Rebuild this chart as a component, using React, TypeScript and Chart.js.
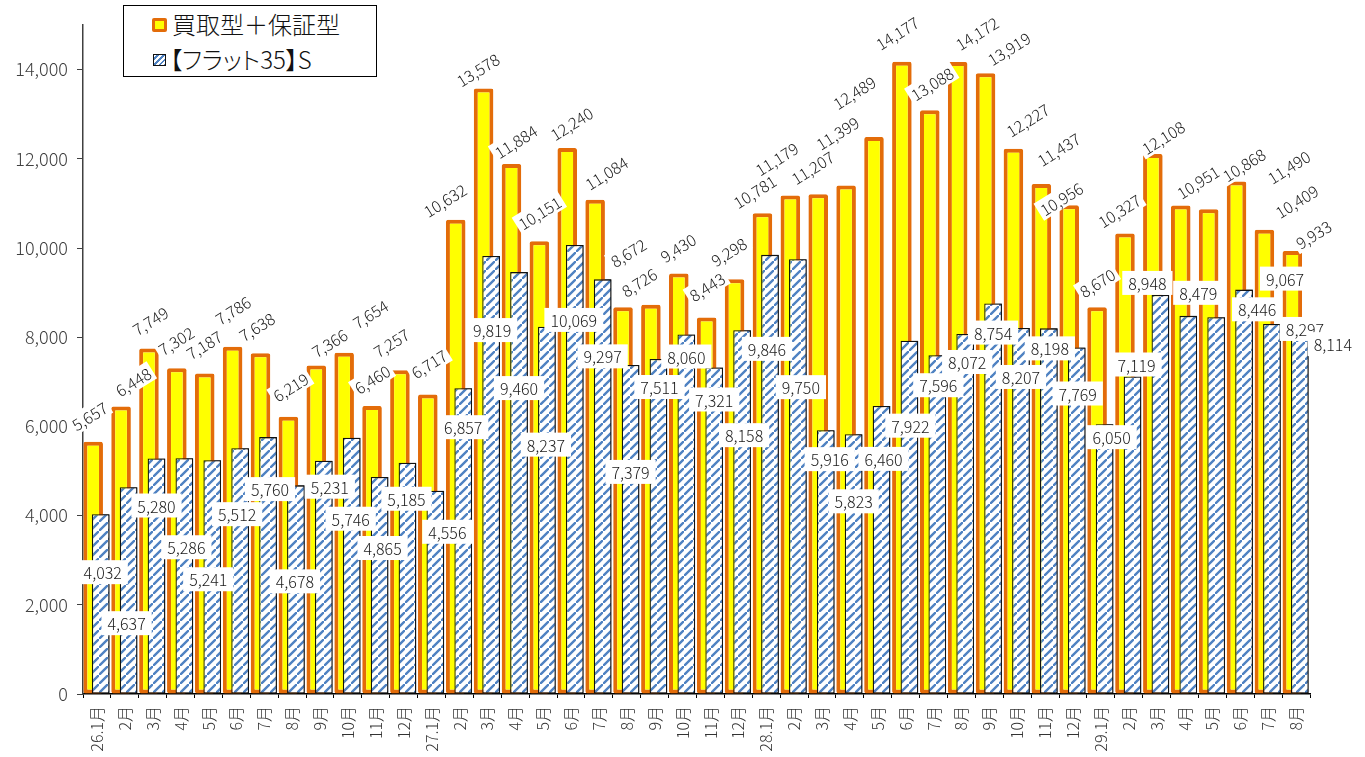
import React, { useEffect, useRef } from 'react';
import { Chart, registerables } from 'chart.js';

Chart.register(...registerables);

const FONT = '"Noto Sans CJK JP", "Noto Sans", sans-serif';

// ---- data ----
const months = [
  '26.1月', '2月', '3月', '4月', '5月', '6月', '7月', '8月', '9月', '10月', '11月', '12月',
  '27.1月', '2月', '3月', '4月', '5月', '6月', '7月', '8月', '9月', '10月', '11月', '12月',
  '28.1月', '2月', '3月', '4月', '5月', '6月', '7月', '8月', '9月', '10月', '11月', '12月',
  '29.1月', '2月', '3月', '4月', '5月', '6月', '7月', '8月',
];

const totalLabel = '買取型＋保証型';
const totalValues = [
  5657, 6448, 7749, 7302, 7187, 7786, 7638, 6219, 7366, 7654, 6460, 7257,
  6717, 10632, 13578, 11884, 10151, 12240, 11084, 8672, 8726, 9430, 8443, 9298,
  10781, 11179, 11207, 11399, 12489, 14177, 13088, 14172, 13919, 12227, 11437, 10956,
  8670, 10327, 12108, 10951, 10868, 11490, 10409, 9933,
];

const flatLabel = '【フラット35】S';
const flatValues = [
  4032, 4637, 5280, 5286, 5241, 5512, 5760, 4678, 5231, 5746, 4865, 5185,
  4556, 6857, 9819, 9460, 8237, 10069, 9297, 7379, 7511, 8060, 7321, 8158,
  9846, 9750, 5916, 5823, 6460, 7922, 7596, 8072, 8754, 8207, 8198, 7769,
  6050, 7119, 8948, 8479, 8446, 9067, 8297, 8114,
];

const yTickValues = [0, 2000, 4000, 6000, 8000, 10000, 12000, 14000];

// ---- label layout (pixel nudges of the value labels relative to their bar top) ----
const totalNudgeX = [
  -4, 12, 1, -1, -1, 0, -4, 2, 13, 26, 0, -9,
  1, -11, -6, 4, 0, 4, 11, 5, -12, -1, 0, -6,
  -8, -14, -6, -9, -20, -5, 2, 19, 23, 14, 17, -8,
  0, -6, 10, 17, 35, 52, 32, 21,
];
const totalNudgeY = [
  -26, -25, -28, -28, -29, -37, -27, -30, -23, -39, -27, -28,
  -31, -20, -19, -23, -29, -25, -27, -55, -23, -26, -31, -28,
  -22, -37, -27, -53, -45, -29, -27, -29, -25, -29, -35, -7,
  -25, -23, -17, -24, -45, -15, -29, -17,
];
const flatNudgeX = [
  2, -2, 0, 2, -4, -3, 2, -1, 6, -1, 3, -1,
  12, 0, 1, 0, -1, -1, 0, 0, 1, 0, 0, 2,
  -3, 3, 4, 0, 2, 1, 1, 2, 0, 0, 1, 1,
  7, 4, -13, 10, 41, 41, 33, 33,
];
const flatNudgeY = [
  58, 136, 47, 89, 119, 66, 52, 96, 26, 81, 71, 36,
  41, 39, 74, 116, 118, 75, 77, 107, 28, 22, 32, 105,
  94, 128, 29, 67, 53, 85, 30, 28, 29, 49, 20, 46,
  13, -12, -12, -23, -8, -11, 5, 12,
];

const fmt = (v: number) => v.toLocaleString('en-US');

function makeHatch(ctx: CanvasRenderingContext2D): CanvasPattern | string {
  const n = 9;
  const c = document.createElement('canvas');
  c.width = n;
  c.height = n;
  const p = c.getContext('2d');
  if (!p) return '#5584C4';
  p.fillStyle = '#ffffff';
  p.fillRect(0, 0, n, n);
  p.strokeStyle = '#4F82C2';
  p.lineWidth = 2.4;
  p.beginPath();
  p.moveTo(-2, n + 2); p.lineTo(n + 2, -2);
  p.moveTo(-2 - n, 2); p.lineTo(2, -2 - n);
  p.moveTo(n - 2, 2 * n + 2); p.lineTo(2 * n + 2, n - 2);
  p.stroke();
  return ctx.createPattern(c, 'repeat') || '#5584C4';
}

const valueLabelPlugin = {
  id: 'valueLabels',
  afterDatasetsDraw(chart: any) {
    const ctx: CanvasRenderingContext2D = chart.ctx;
    const mTotal = chart.getDatasetMeta(0);
    const mFlat = chart.getDatasetMeta(1);
    // hatched series sits in front of the yellow one
    ctx.save();
    const area = chart.chartArea;
    ctx.beginPath();
    ctx.rect(area.left, area.top - 5, area.right - area.left, area.bottom - area.top + 10);
    ctx.clip();
    mFlat.data.forEach((el: any) => el.draw(ctx));
    ctx.restore();

    ctx.save();
    ctx.font = `300 16px ${FONT}`;
    ctx.textAlign = 'center';
    ctx.textBaseline = 'middle';
    mTotal.data.forEach((el: any, i: number) => {
      const text = fmt(totalValues[i]);
      const w = ctx.measureText(text).width;
      ctx.save();
      ctx.translate(el.x + totalNudgeX[i], el.y + totalNudgeY[i]);
      ctx.rotate((-32 * Math.PI) / 180);
      ctx.fillStyle = '#ffffff';
      ctx.fillRect(-w / 2 - 3, -10, w + 6, 20);
      ctx.fillStyle = '#1a1a1a';
      ctx.fillText(text, 0, 1);
      ctx.restore();
    });
    mFlat.data.forEach((el: any, i: number) => {
      const text = fmt(flatValues[i]);
      const w = ctx.measureText(text).width;
      const cx = el.x + flatNudgeX[i];
      const cy = el.y + flatNudgeY[i];
      ctx.fillStyle = '#ffffff';
      ctx.fillRect(cx - w / 2 - 6, cy - 12, w + 12, 24);
      ctx.fillStyle = '#1a1a1a';
      ctx.fillText(text, cx, cy + 1);
    });
    ctx.restore();
  },
};

export default function App() {
  const canvasRef = useRef<HTMLCanvasElement | null>(null);

  useEffect(() => {
    const canvas = canvasRef.current;
    if (!canvas) return;
    const ctx = canvas.getContext('2d');
    if (!ctx) return;
    Chart.defaults.font.family = FONT;
    const hatch = makeHatch(ctx);

    const chart = new Chart(ctx, {
      type: 'bar',
      data: {
        labels: months,
        datasets: [
          {
            label: totalLabel,
            data: totalValues,
            backgroundColor: '#FFFF00',
            borderColor: '#E36C09',
            borderWidth: 4,
            borderRadius: 2,
            borderSkipped: false,
            barPercentage: 2.6,
            categoryPercentage: 0.54,
          },
          {
            label: flatLabel,
            data: flatValues,
            backgroundColor: hatch as any,
            borderColor: '#111111',
            borderWidth: 1.3,
            borderSkipped: false,
            barPercentage: 2.35,
            categoryPercentage: 0.54,
          },
        ],
      },
      options: {
        responsive: false,
        animation: false,
        devicePixelRatio: 1,
        layout: { padding: { top: 25, right: 55, left: 0, bottom: 0 } },
        plugins: {
          legend: { display: false },
          tooltip: { enabled: false },
        },
        scales: {
          x: {
            grid: {
              display: true,
              drawOnChartArea: false,
              drawTicks: true,
              tickLength: 4,
              color: '#000000',
              offset: true,
            },
            border: { display: true, color: '#000000', width: 1.5 },
            ticks: {
              autoSkip: false,
              minRotation: 90,
              maxRotation: 90,
              padding: 8,
              color: '#333333',
              font: { family: FONT, size: 16, weight: '300' as any },
            },
            afterFit: (s: any) => {
              s.height = 63;
            },
          },
          y: {
            min: 0,
            max: 15000,
            afterBuildTicks: (axis: any) => {
              axis.ticks = yTickValues.map((v) => ({ value: v }));
            },
            ticks: {
              callback: (v: any) => fmt(Number(v)),
              padding: 9,
              color: '#404040',
              font: { family: FONT, size: 18, weight: '300' as any },
            },
            grid: {
              drawOnChartArea: false,
              drawTicks: true,
              tickLength: 6,
              color: '#404040',
            },
            border: { display: true, color: '#404040', width: 1.5 },
            afterFit: (s: any) => {
              s.width = 83;
            },
          },
        },
      },
      plugins: [valueLabelPlugin],
    });
    return () => chart.destroy();
  }, []);

  const hatchCss =
    'repeating-linear-gradient(135deg, #ffffff 0px, #ffffff 2px, #4F82C2 2px, #4F82C2 4px)';

  return (
    <div style={{ position: 'absolute', left: 0, top: 0, width: 1365, height: 757, background: '#fff', overflow: 'hidden' }}>
      <canvas ref={canvasRef} width={1365} height={757} style={{ display: 'block', width: 1365, height: 757 }} />
      <div
        style={{
          position: 'absolute',
          left: 123,
          top: 5,
          width: 254,
          height: 72,
          border: '1.5px solid #000',
          boxSizing: 'border-box',
          background: '#fff',
          fontFamily: FONT,
          fontSize: 24,
          fontWeight: 300,
          color: '#111',
        }}
      >
        <div
          style={{
            position: 'absolute',
            left: 28,
            top: 12,
            width: 15,
            height: 14,
            boxSizing: 'border-box',
            background: '#FFFF00',
            border: '3.5px solid #E36C09',
            borderRadius: 2,
          }}
        />
        <div style={{ position: 'absolute', left: 48, top: 3, lineHeight: '30px', whiteSpace: 'nowrap' }}>{totalLabel}</div>
        <div
          style={{
            position: 'absolute',
            left: 29,
            top: 48,
            width: 13,
            height: 12,
            boxSizing: 'border-box',
            background: hatchCss,
            border: '1px solid #111',
          }}
        />
        <div
          style={{
            position: 'absolute',
            left: 46,
            top: 38,
            lineHeight: '30px',
            whiteSpace: 'nowrap',
            fontFeatureSettings: '"palt"',
          }}
        >
          {flatLabel}
        </div>
      </div>
    </div>
  );
}
